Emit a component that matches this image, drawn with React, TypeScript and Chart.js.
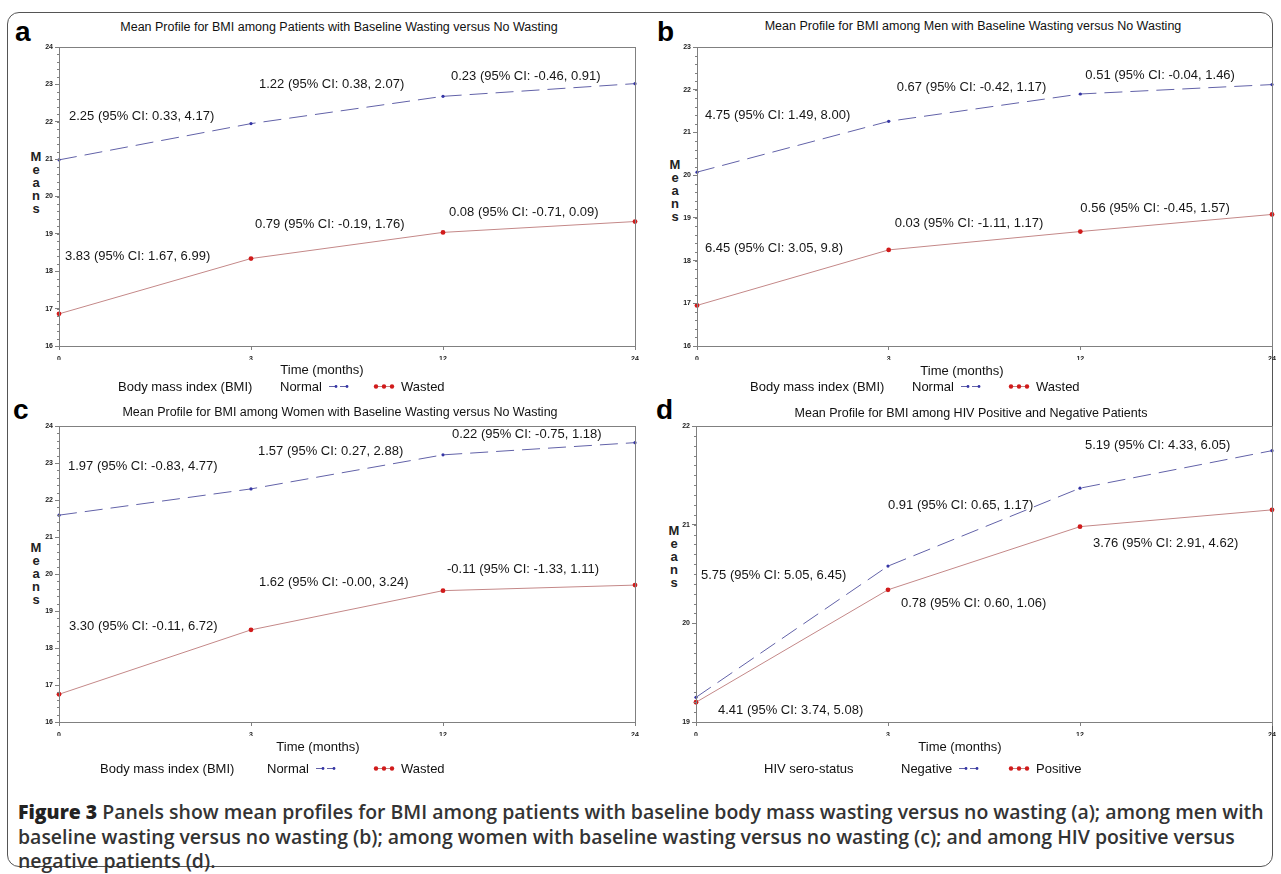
import React, { useEffect, useLayoutEffect, useRef } from 'react';
import { Chart, registerables } from 'chart.js';

Chart.register(...registerables);

// ---------------- data ----------------
const timeLabels = ['0', '3', '12', '24'];

const aNormal = [20.98, 21.95, 22.68, 23.02];
const aWasted = [16.86, 18.34, 19.04, 19.33];
const bNormal = [20.07, 21.26, 21.9, 22.12];
const bWasted = [16.95, 18.25, 18.68, 19.08];
const cNormal = [21.59, 22.3, 23.22, 23.55];
const cWasted = [16.75, 18.49, 19.55, 19.7];
const dNegative = [19.25, 20.58, 21.37, 21.75];
const dPositive = [19.2, 20.34, 20.98, 21.15];

const aNormalNotes = ['2.25 (95% CI: 0.33, 4.17)', '1.22 (95% CI: 0.38, 2.07)', '0.23 (95% CI: -0.46, 0.91)'];
const aWastedNotes = ['3.83 (95% CI: 1.67, 6.99)', '0.79 (95% CI: -0.19, 1.76)', '0.08 (95% CI: -0.71, 0.09)'];
const bNormalNotes = ['4.75 (95% CI: 1.49, 8.00)', '0.67 (95% CI: -0.42, 1.17)', '0.51 (95% CI: -0.04, 1.46)'];
const bWastedNotes = ['6.45 (95% CI: 3.05, 9.8)', '0.03 (95% CI: -1.11, 1.17)', '0.56 (95% CI: -0.45, 1.57)'];
const cNormalNotes = ['1.97 (95% CI: -0.83, 4.77)', '1.57 (95% CI: 0.27, 2.88)', '0.22 (95% CI: -0.75, 1.18)'];
const cWastedNotes = ['3.30 (95% CI: -0.11, 6.72)', '1.62 (95% CI: -0.00, 3.24)', '-0.11 (95% CI: -1.33, 1.11)'];
const dNegativeNotes = ['5.75 (95% CI: 5.05, 6.45)', '0.91 (95% CI: 0.65, 1.17)', '5.19 (95% CI: 4.33, 6.05)'];
const dPositiveNotes = ['4.41 (95% CI: 3.74, 5.08)', '0.78 (95% CI: 0.60, 1.06)', '3.76 (95% CI: 2.91, 4.62)'];

const panelTitles = [
  'Mean Profile for BMI among Patients with Baseline Wasting versus No Wasting',
  'Mean Profile for BMI among Men with Baseline Wasting versus No Wasting',
  'Mean Profile for BMI among Women with Baseline Wasting versus No Wasting',
  'Mean Profile for BMI among HIV Positive and Negative Patients',
];
const legendTitles = ['Body mass index (BMI)', 'Body mass index (BMI)', 'Body mass index (BMI)', 'HIV sero-status'];
const groupNames = [
  ['Normal', 'Wasted'],
  ['Normal', 'Wasted'],
  ['Normal', 'Wasted'],
  ['Negative', 'Positive'],
];
const captionLead = 'Figure 3';
const captionLines = [
  ' Panels show mean profiles for BMI among patients with baseline body mass wasting versus no wasting (a); among men with',
  'baseline wasting versus no wasting (b); among women with baseline wasting versus no wasting (c); and among HIV positive versus',
  'negative patients (d).',
];

// ---------------- layout / style ----------------
const FONT = '"Liberation Sans", Arial, sans-serif';
const BLUE_LINE = '#6262a8';
const BLUE_PT = '#3535a5';
const RED_LINE = '#c48888';
const RED_PT = '#d11b1b';
const FRAME = '#808080';

type Anchor = [number, number, number]; // [category index, px offset, y value]

const panels = [
  {
    letter: 'a', frame: { left: 59, right: 635, top: 47, bottom: 346 }, yMin: 16, yMax: 24, minor: 0.2,
    series: [aNormal, aWasted], notes: [aNormalNotes, aWastedNotes],
    anchors: [[[0, 10, 22.15], [1, 8, 23.0], [2, 8, 23.2]], [[0, 6, 18.4], [1, 4, 19.25], [2, 6, 19.57]]] as Anchor[][],
    letterPos: { x: 15, y: 18 }, titleX: 339, titleY: 27,
    meansX: 36, meansY: 156, timeX: 322, timeY: 369,
    legendY: 386, legendX: [118, 280, 373],
  },
  {
    letter: 'b', frame: { left: 697, right: 1272, top: 47, bottom: 346 }, yMin: 16, yMax: 23, minor: 0.2,
    series: [bNormal, bWasted], notes: [bNormalNotes, bWastedNotes],
    anchors: [[[0, 8, 21.39], [1, 8, 22.06], [2, 5, 22.34]], [[0, 8, 18.28], [1, 6, 18.86], [2, 0, 19.21]]] as Anchor[][],
    letterPos: { x: 657, y: 18 }, titleX: 973, titleY: 26,
    meansX: 675, meansY: 164, timeX: 962, timeY: 370,
    legendY: 386, legendX: [750, 912, 1008],
  },
  {
    letter: 'c', frame: { left: 59, right: 635, top: 426, bottom: 722 }, yMin: 16, yMax: 24, minor: 0.2,
    series: [cNormal, cWasted], notes: [cNormalNotes, cWastedNotes],
    anchors: [[[0, 9, 22.9], [1, 7, 23.3], [2, 9, 23.76]], [[0, 10, 18.59], [1, 8, 19.76], [2, 4, 20.12]]] as Anchor[][],
    letterPos: { x: 13, y: 396 }, titleX: 340, titleY: 412,
    meansX: 36, meansY: 547, timeX: 318, timeY: 746,
    legendY: 768, legendX: [100, 267, 373],
  },
  {
    letter: 'd', frame: { left: 696, right: 1272, top: 426, bottom: 722 }, yMin: 19, yMax: 22, minor: 0.1,
    series: [dNegative, dPositive], notes: [dNegativeNotes, dPositiveNotes],
    anchors: [[[0, 5, 20.49], [1, 0, 21.2], [2, 5, 21.8]], [[0, 22, 19.12], [1, 13, 20.2], [2, 13, 20.81]]] as Anchor[][],
    letterPos: { x: 656, y: 396 }, titleX: 971, titleY: 413,
    meansX: 674, meansY: 530, timeX: 960, timeY: 746,
    legendY: 768, legendX: [764, 901, 1008],
  },
];

const PAD_L = 30;
const PAD_T = 8;
const PAD_R = 10;
const PAD_B = 22;

function makePanelPlugin(p: any) {
  return {
    id: 'panelDecor' + p.letter,
    afterDraw(chart: any) {
      const { ctx, chartArea: a } = chart;
      const ys = chart.scales.y;
      const xs = chart.scales.x;
      ctx.save();
      ctx.strokeStyle = FRAME;
      ctx.lineWidth = 1;
      ctx.strokeRect(Math.round(a.left) + 0.5, Math.round(a.top) + 0.5, Math.round(a.right - a.left), Math.round(a.bottom - a.top));
      const n = Math.round((p.yMax - p.yMin) / p.minor);
      ctx.beginPath();
      for (let i = 0; i <= n; i++) {
        const v = p.yMin + i * p.minor;
        const y = Math.round(ys.getPixelForValue(v)) + 0.5;
        ctx.moveTo(Math.round(a.left) - 2, y);
        ctx.lineTo(Math.round(a.left), y);
      }
      ctx.stroke();
      ctx.font = '13px ' + FONT;
      ctx.fillStyle = '#161616';
      ctx.textBaseline = 'middle';
      ctx.textAlign = 'left';
      p.notes.forEach((group: string[], gi: number) => {
        group.forEach((text: string, i: number) => {
          const [xi, dx, yv] = p.anchors[gi][i];
          ctx.fillText(text, xs.getPixelForValue(xi) + dx, ys.getPixelForValue(yv));
        });
      });
      ctx.restore();
    },
  };
}

function PanelChart({ p }: { p: any }) {
  const ref = useRef<HTMLCanvasElement>(null);
  const W = p.frame.right - p.frame.left + PAD_L + PAD_R;
  const H = p.frame.bottom - p.frame.top + PAD_T + PAD_B;
  useEffect(() => {
    if (!ref.current) return;
    const tickFont = { family: FONT, size: 7, weight: 'bold' as const };
    const chart = new Chart(ref.current, {
      type: 'line',
      data: {
        labels: timeLabels,
        datasets: [
          {
            data: p.series[0],
            borderColor: BLUE_LINE,
            borderWidth: 1,
            borderDash: [18, 8],
            pointRadius: 1.6,
            pointBackgroundColor: BLUE_PT,
            pointBorderWidth: 0,
            tension: 0,
            clip: false as any,
          },
          {
            data: p.series[1],
            borderColor: RED_LINE,
            borderWidth: 1,
            pointRadius: 2.4,
            pointBackgroundColor: RED_PT,
            pointBorderWidth: 0,
            tension: 0,
            clip: false as any,
          },
        ],
      },
      options: {
        animation: false,
        responsive: false,
        maintainAspectRatio: false,
        layout: { padding: { left: PAD_L - 20, top: PAD_T, right: PAD_R, bottom: PAD_B - 14 } },
        plugins: { legend: { display: false }, tooltip: { enabled: false }, title: { display: false } },
        scales: {
          x: {
            type: 'category',
            offset: false,
            grid: { drawOnChartArea: false, tickLength: 4, color: FRAME },
            border: { display: false },
            ticks: { font: tickFont, color: '#222', padding: 5, maxRotation: 0, autoSkip: false },
            afterFit: (s: any) => {
              s.height = 14;
              s.paddingLeft = 0;
              s.paddingRight = 0;
            },
          },
          y: {
            type: 'linear',
            min: p.yMin,
            max: p.yMax,
            grid: { drawOnChartArea: false, tickLength: 4, color: FRAME },
            border: { display: false },
            ticks: { stepSize: 1, font: tickFont, color: '#222', padding: 2 },
            afterFit: (s: any) => {
              s.width = 20;
              s.paddingTop = 0;
              s.paddingBottom = 0;
            },
          },
        },
      },
      plugins: [makePanelPlugin(p)],
    });
    return () => chart.destroy();
  }, []);
  return (
    <canvas
      ref={ref}
      width={W}
      height={H}
      style={{ position: 'absolute', left: p.frame.left - PAD_L, top: p.frame.top - PAD_T, width: W, height: H }}
    />
  );
}

function NormalSymbol() {
  return (
    <svg width="22" height="8" style={{ display: 'block' }}>
      <line x1="1" y1="4" x2="8" y2="4" stroke={BLUE_LINE} strokeWidth="1" />
      <circle cx="8" cy="4" r="1.4" fill={BLUE_PT} />
      <line x1="12" y1="4" x2="19" y2="4" stroke={BLUE_LINE} strokeWidth="1" />
      <circle cx="19" cy="4" r="1.4" fill={BLUE_PT} />
    </svg>
  );
}

function WastedSymbol() {
  return (
    <svg width="22" height="8" style={{ display: 'block' }}>
      <line x1="2" y1="4" x2="20" y2="4" stroke={RED_LINE} strokeWidth="1" />
      <circle cx="3" cy="4" r="2.2" fill={RED_PT} />
      <circle cx="11" cy="4" r="2.2" fill={RED_PT} />
      <circle cx="19" cy="4" r="2.2" fill={RED_PT} />
    </svg>
  );
}

const txt: React.CSSProperties = { position: 'absolute', fontFamily: FONT, color: '#111', whiteSpace: 'nowrap', lineHeight: 1 };
const row: React.CSSProperties = { ...txt, display: 'flex', alignItems: 'center', fontSize: 13, transform: 'translateY(-50%)' };

function Panel({ p, idx }: { p: any; idx: number }) {
  const [lx0, lx1, lx2] = p.legendX;
  return (
    <>
      <div style={{ ...txt, left: p.letterPos.x, top: p.letterPos.y, fontSize: 28, fontWeight: 'bold', color: '#000' }}>{p.letter}</div>
      <div style={{ ...txt, left: p.titleX, top: p.titleY, fontSize: 12.5, transform: 'translate(-50%, -50%)' }}>{panelTitles[idx]}</div>
      <div style={{ ...txt, left: p.meansX, top: p.meansY - 6.5, fontSize: 13, fontWeight: 'bold', lineHeight: '13px', textAlign: 'center', transform: 'translateX(-50%)', color: '#222' }}>
        {'Means'.split('').map((ch, i) => (
          <div key={i}>{ch}</div>
        ))}
      </div>
      <PanelChart p={p} />
      <div style={{ ...txt, left: p.timeX, top: p.timeY, fontSize: 13, transform: 'translate(-50%, -50%)' }}>Time (months)</div>
      <div style={{ ...row, left: lx0, top: p.legendY }}>{legendTitles[idx]}</div>
      <div style={{ ...row, left: lx1, top: p.legendY }}>
        <span>{groupNames[idx][0]}</span>
        <span style={{ marginLeft: 6 }}>
          <NormalSymbol />
        </span>
      </div>
      <div style={{ ...row, left: lx2, top: p.legendY }}>
        <WastedSymbol />
        <span style={{ marginLeft: 6 }}>{groupNames[idx][1]}</span>
      </div>
    </>
  );
}

function Caption() {
  const ref = useRef<HTMLDivElement>(null);
  useLayoutEffect(() => {
    const el = ref.current;
    if (!el) return;
    const first = el.children[0] as HTMLElement;
    const w = first.scrollWidth;
    const k = w > 0 ? 1246 / w : 1;
    Array.from(el.children).forEach((c) => {
      (c as HTMLElement).style.transform = `translateY(-50%) scaleX(${k})`;
    });
  }, []);
  return (
    <div ref={ref}>
      {captionLines.map((line, i) => (
        <div
          key={i}
          style={{
            position: 'absolute',
            left: 18,
            top: 812 + i * 24.5,
            transform: 'translateY(-50%)',
            transformOrigin: '0 50%',
            fontFamily: '"Open Sans", "Noto Sans", sans-serif',
            fontSize: 19,
            fontWeight: 600,
            color: '#333',
            whiteSpace: 'nowrap',
            lineHeight: 1,
            display: 'inline-block',
          }}
        >
          {i === 0 ? <span style={{ fontWeight: 800, color: '#222' }}>{captionLead}</span> : null}
          {line}
        </div>
      ))}
    </div>
  );
}

export default function App() {
  return (
    <div style={{ position: 'absolute', left: 0, top: 0, width: 1281, height: 874, background: '#fff', overflow: 'hidden' }}>
      <div
        style={{
          position: 'absolute',
          left: 7,
          top: 12,
          width: 1266,
          height: 855,
          border: '1.5px solid #555',
          borderRadius: 12,
          boxSizing: 'border-box',
        }}
      />
      {panels.map((p, i) => (
        <Panel key={p.letter} p={p} idx={i} />
      ))}
      <Caption />
    </div>
  );
}
